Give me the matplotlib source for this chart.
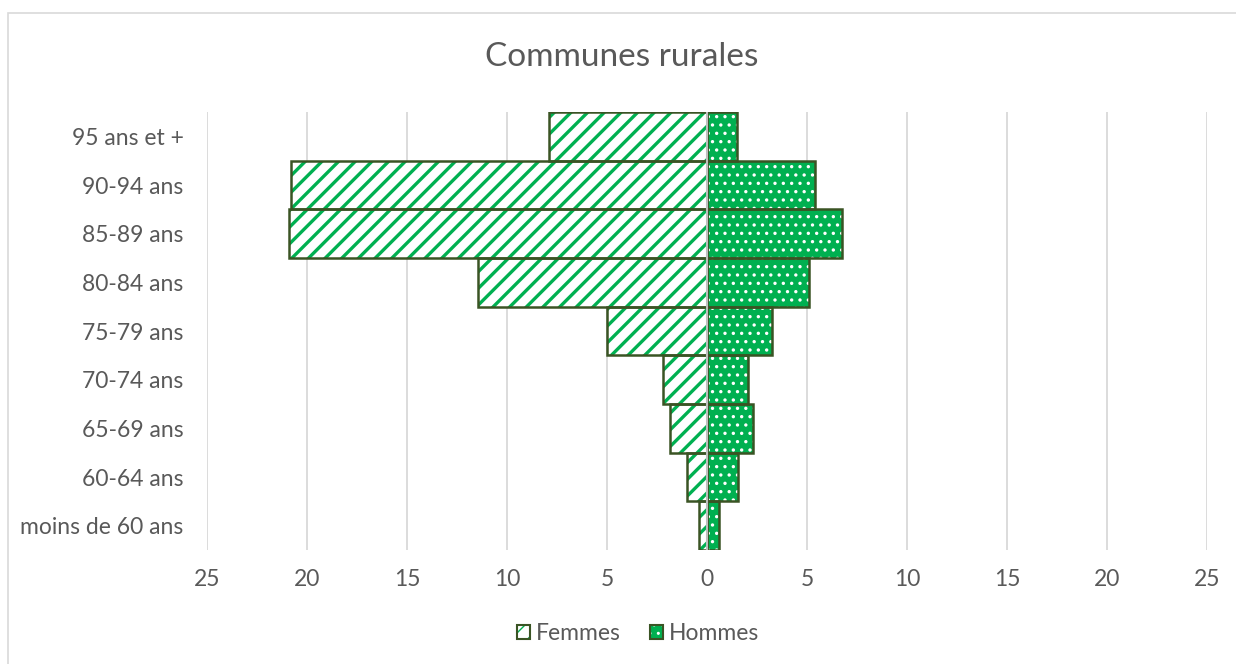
import numpy as np
import matplotlib
matplotlib.use("Agg")
import matplotlib.pyplot as plt
from matplotlib.patches import Patch, Rectangle
from matplotlib.legend_handler import HandlerTuple

# age groups, bottom to top
ages = ["moins de 60 ans", "60-64 ans", "65-69 ans", "70-74 ans", "75-79 ans",
        "80-84 ans", "85-89 ans", "90-94 ans", "95 ans et +"]
femmes = [0.4, 1.0, 1.85, 2.2, 5.0, 11.45, 20.9, 20.8, 7.9]
hommes = [0.6, 1.55, 2.3, 2.05, 3.25, 5.1, 6.75, 5.4, 1.5]
ticks = [-25, -20, -15, -10, -5, 0, 5, 10, 15, 20, 25]

green = "#00B050"
edge = "#3A5424"
grey_txt = "#595959"

plt.rcParams["font.family"] = ["Lato", "DejaVu Sans"]


def set_hatch_lw(patches, lw):
    # per-artist hatch width if this matplotlib has it
    for p in patches:
        if hasattr(p, "set_hatch_linewidth"):
            p.set_hatch_linewidth(lw)


W, H = 1236, 664
fig = plt.figure(figsize=(W / 100, H / 100), dpi=100)
ax = fig.add_axes([207 / W, 1 - 550 / H, 1000 / W, 438 / H])

y = np.arange(len(ages))
neg = -np.array(femmes)

# fills with hatch (hatch colour comes from edgecolor), outlines drawn separately
with plt.rc_context({"hatch.linewidth": 2.4}):
    bf = ax.barh(y, neg, height=1.0, color="white", edgecolor=green, hatch="//",
                 linewidth=0, zorder=2)
with plt.rc_context({"hatch.linewidth": 1.2}):
    bh = ax.barh(y, hommes, height=1.0, color=green, edgecolor="white", hatch="..",
                 linewidth=0, zorder=2)
set_hatch_lw(bf, 2.4)
set_hatch_lw(bh, 1.2)
ax.barh(y, neg, height=1.0, fill=False, edgecolor=edge, linewidth=1.8, zorder=3)
ax.barh(y, hommes, height=1.0, fill=False, edgecolor=edge, linewidth=1.8, zorder=3)

ax.axvline(0, color="#BFBFBF", linewidth=1.5, zorder=4)

ax.set_xlim(-25, 25)
ax.set_ylim(-0.5, len(ages) - 0.5)
ax.set_xticks(ticks)
ax.set_xticklabels([str(abs(t)) for t in ticks])
ax.set_yticks(y)
ax.set_yticklabels(ages)
ax.grid(axis="x", color="#D9D9D9", linewidth=1.3, zorder=0)
ax.set_axisbelow(True)
for s in ax.spines.values():
    s.set_visible(False)
ax.tick_params(length=0, labelsize=16.5, labelcolor=grey_txt)
ax.tick_params(axis="x", pad=14)
ax.tick_params(axis="y", pad=17)

fig.text(0.5 * (8 + 1236) / W, 1 - 57 / H, "Communes rurales", ha="center", va="center",
         fontsize=24, color=grey_txt)

with plt.rc_context({"hatch.linewidth": 2.0}):
    hf = (Patch(facecolor="white", edgecolor=green, hatch="//", linewidth=0),
          Patch(fill=False, edgecolor=edge, linewidth=1.5))
    hh = (Patch(facecolor=green, edgecolor="white", hatch="..", linewidth=0),
          Patch(fill=False, edgecolor=edge, linewidth=1.5))
leg = fig.legend([hf, hh], ["Femmes", "Hommes"], handler_map={tuple: HandlerTuple(ndivide=1, pad=0)},
                 loc="center", bbox_to_anchor=(638 / W, 1 - 634 / H),
                 ncol=2, frameon=False, fontsize=16.5, handlelength=0.55, handleheight=0.55,
                 handletextpad=0.25, columnspacing=1.3)
for t in leg.get_texts():
    t.set_color(grey_txt)

# light chart-area frame
fig.patches.append(Rectangle((8 / W, -0.1), 1.2, (1 - 13 / H) + 0.1, transform=fig.transFigure,
                             fill=False, edgecolor="#D9D9D9", linewidth=1.2))

fig.savefig("out.png", dpi=100)
